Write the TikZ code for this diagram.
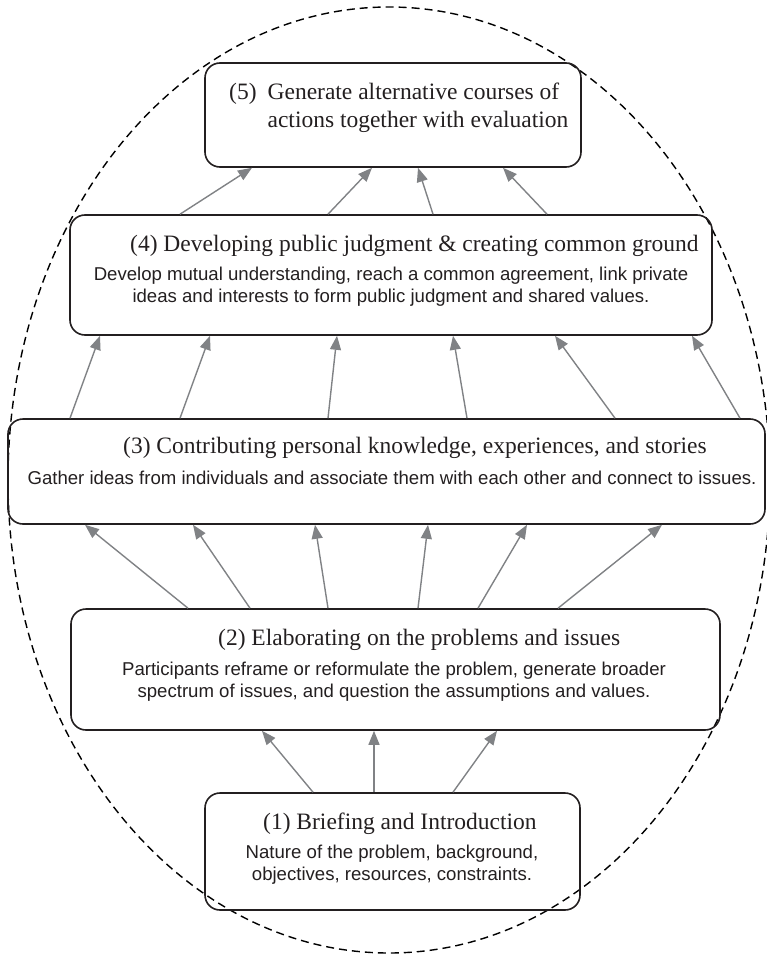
\documentclass[tikz,border=0pt]{standalone}
\usepackage{fontspec}
\setmainfont{Liberation Serif}
\newfontfamily\subfont{Liberation Sans}
\usetikzlibrary{arrows.meta}
\definecolor{arrowgray}{HTML}{808285}
\definecolor{ink}{HTML}{231F20}
\tikzset{
  stage/.style={draw=ink, line width=1.6pt, rounded corners=15pt, inner sep=0pt},
  title/.style={font=\fontsize{23.5}{27}\selectfont, text=ink, inner sep=0pt},
  detail/.style={font=\subfont\fontsize{18.6}{21.5}\selectfont, text=ink, inner sep=0pt, align=center},
  flow/.style={draw=arrowgray, line width=1.4pt, -{Triangle[length=14pt,width=11pt]}},
  outline/.style={draw=black, line width=1.4pt, dash pattern=on 8pt off 5pt}
}
\begin{document}
\begin{tikzpicture}[x=1pt, y=-1pt]
\useasboundingbox (0,0) rectangle (767,955);

% dashed ellipse enclosing all stages
\draw[outline] (389,480) ellipse [x radius=381, y radius=473];

% stage boxes
\node[stage, minimum width=376pt, minimum height=104pt] (b5) at (393,115) {};
\node[stage, minimum width=642pt, minimum height=120pt] (b4) at (391,275) {};
\node[stage, minimum width=757pt, minimum height=105pt] (b3) at (386.5,471.5) {};
\node[stage, minimum width=649pt, minimum height=121pt] (b2) at (395.5,669.5) {};
\node[stage, minimum width=375pt, minimum height=117pt] (b1) at (392.5,851.5) {};

% stage 5 (hanging indent after the number)
\node[title, anchor=base west] (t5) at (229,100)
  {\begin{tabular}[t]{@{}l@{\hspace{11pt}}l@{}}(5) & Generate alternative courses of\\[1pt] & actions together with evaluation\end{tabular}};

% stage 4 (detail nodes are anchored at the baseline of their last line)
\node[title, anchor=base west] (t4) at (130,251) {(4) Developing public judgment \& creating common ground};
\node[detail, anchor=base] (d4) at (391,302) {Develop mutual understanding, reach a common agreement, link private\\ideas and interests to form public judgment and shared values.};

% stage 3
\node[title, anchor=base west] (t3) at (123,453) {(3) Contributing personal knowledge, experiences, and stories};
\node[detail, anchor=base] (d3) at (392,484) {Gather ideas from individuals and associate them with each other and connect to issues.};

% stage 2
\node[title, anchor=base west] (t2) at (218,645) {(2) Elaborating on the problems and issues};
\node[detail, anchor=base] (d2) at (394,697) {Participants reframe or reformulate the problem, generate broader\\spectrum of issues, and question the assumptions and values.};

% stage 1
\node[title, anchor=base west] (t1) at (263,829) {(1) Briefing and Introduction};
\node[detail, anchor=base] (d1) at (392,880) {Nature of the problem, background,\\objectives, resources, constraints.};

% flows 1 -> 2
\draw[flow] ([xshift=-79.5pt]b1.north) -- ([xshift=-133.5pt]b2.south);
\draw[flow] ([xshift=-18.5pt]b1.north) -- ([xshift=-21.5pt]b2.south);
\draw[flow] ([xshift=60.5pt]b1.north) -- ([xshift=101.5pt]b2.south);

% flows 2 -> 3
\draw[flow] ([xshift=-207.5pt]b2.north) -- ([xshift=-301.5pt]b3.south);
\draw[flow] ([xshift=-145.5pt]b2.north) -- ([xshift=-193.5pt]b3.south);
\draw[flow] ([xshift=-67.5pt]b2.north) -- ([xshift=-71.5pt]b3.south);
\draw[flow] ([xshift=22.5pt]b2.north) -- ([xshift=41.5pt]b3.south);
\draw[flow] ([xshift=82.5pt]b2.north) -- ([xshift=140.5pt]b3.south);
\draw[flow] ([xshift=162.5pt]b2.north) -- ([xshift=275.5pt]b3.south);

% flows 3 -> 4
\draw[flow] ([xshift=-316.5pt]b3.north) -- ([xshift=-291pt]b4.south);
\draw[flow] ([xshift=-206.5pt]b3.north) -- ([xshift=-181pt]b4.south);
\draw[flow] ([xshift=-58.5pt]b3.north) -- ([xshift=-54pt]b4.south);
\draw[flow] ([xshift=80.5pt]b3.north) -- ([xshift=62pt]b4.south);
\draw[flow] ([xshift=228.5pt]b3.north) -- ([xshift=164pt]b4.south);
\draw[flow] ([xshift=353.5pt]b3.north) -- ([xshift=301pt]b4.south);

% flows 4 -> 5
\draw[flow] ([xshift=-211pt]b4.north) -- ([xshift=-141pt]b5.south);
\draw[flow] ([xshift=-63pt]b4.north) -- ([xshift=-21pt]b5.south);
\draw[flow] ([xshift=42pt]b4.north) -- ([xshift=25pt]b5.south);
\draw[flow] ([xshift=156pt]b4.north) -- ([xshift=110pt]b5.south);
\end{tikzpicture}
\end{document}
